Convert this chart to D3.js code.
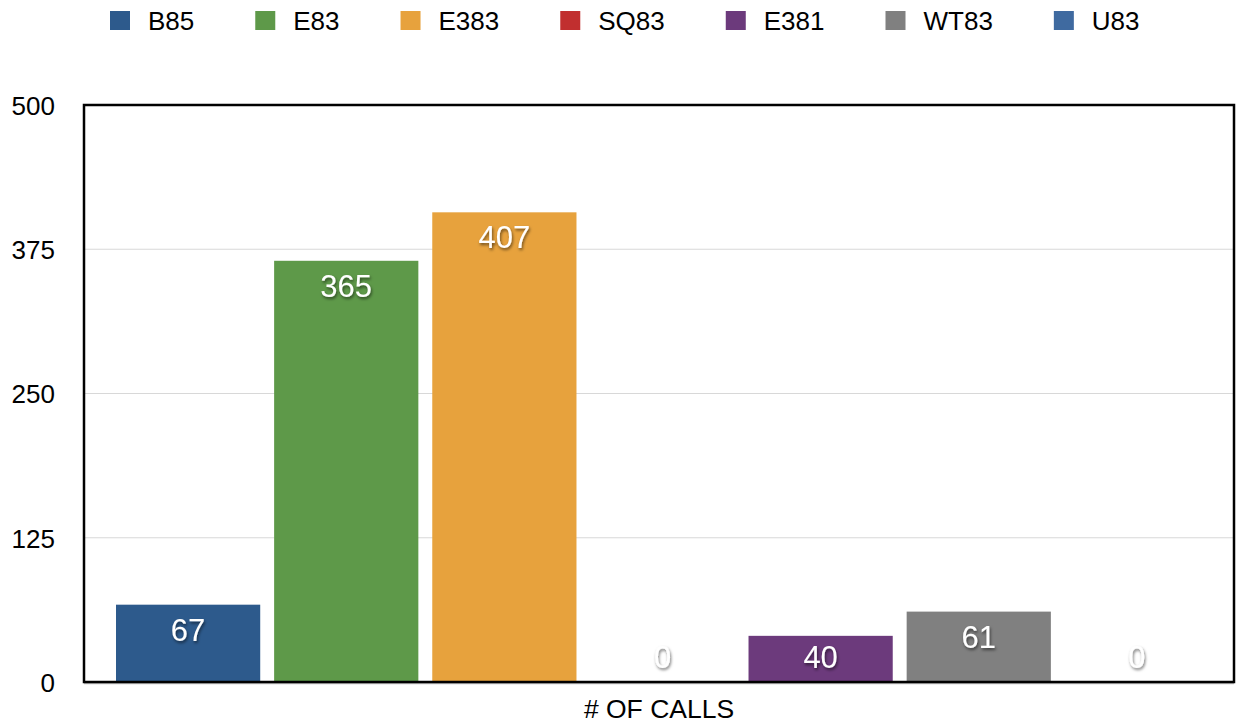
<!DOCTYPE html>
<html>
<head>
<meta charset="utf-8">
<script src="https://cdn.jsdelivr.net/npm/d3@7"></script>
<style>
  body { margin: 0; background: #fff; }
  text { font-family: "Liberation Sans", Arial, Helvetica, sans-serif; }
</style>
</head>
<body>
<div id="chart"></div>
<script>
// data
var category = "# OF CALLS";
var seriesNames = ["B85", "E83", "E383", "SQ83", "E381", "WT83", "U83"];
var seriesValues = [67, 365, 407, 0, 40, 61, 0];
var seriesColors = ["#2d5a8c", "#5e9949", "#e7a23d", "#c12f2f", "#6c3a7c", "#808080", "#3f6aa0"];
var yTicks = [0, 125, 250, 375, 500];

function main() {
    var width = 1238, height = 724;
    var margin = { top: 105, right: 4, bottom: 42, left: 84 };
    var plotW = width - margin.left - margin.right;
    var plotH = height - margin.top - margin.bottom;

    var svg = d3.select("#chart")
        .append("svg")
        .attr("width", width)
        .attr("height", height);

    // drop shadow for bar labels
    var filter = svg.append("defs").append("filter")
        .attr("id", "shadow")
        .attr("x", "-20%").attr("y", "-20%")
        .attr("width", "140%").attr("height", "160%");
    filter.append("feDropShadow")
        .attr("dx", 1).attr("dy", 2)
        .attr("stdDeviation", 1.4)
        .attr("flood-color", "#000")
        .attr("flood-opacity", 0.55);

    var g = svg.append("g")
        .attr("transform", "translate(" + margin.left + "," + margin.top + ")");

    // scales: one category, seven series side by side
    var x0 = d3.scaleBand()
        .domain([category])
        .range([32, plotW - 25]);
    var x1 = d3.scaleBand()
        .domain(seriesNames)
        .range([0, x0.bandwidth()])
        .paddingInner(0.088)
        .paddingOuter(0);
    var y = d3.scaleLinear()
        .domain([0, 500])
        .range([plotH, 0]);

    // gridlines
    g.selectAll(".grid")
        .data(yTicks.filter(function (d) { return d > 0 && d < 500; }))
        .enter()
        .append("line")
        .attr("x1", 0)
        .attr("x2", plotW)
        .attr("y1", function (d) { return y(d); })
        .attr("y2", function (d) { return y(d); })
        .attr("stroke", "#d8d8d8")
        .attr("stroke-width", 1.2);

    // y axis labels
    var yAxis = g.append("g")
        .attr("transform", "translate(-29,0)")
        .call(d3.axisLeft(y).tickValues(yTicks).tickSize(0).tickPadding(0));
    yAxis.select(".domain").remove();
    yAxis.selectAll("text")
        .attr("font-size", "26px")
        .attr("dy", "0.36em")
        .attr("fill", "#000")
        .attr("font-family", "Liberation Sans, Arial, sans-serif");

    // bars
    var data = seriesNames.map(function (s, i) {
        return { name: s, value: seriesValues[i], color: seriesColors[i] };
    });

    var barG = g.append("g")
        .attr("transform", "translate(" + x0(category) + ",0)");

    barG.selectAll("rect")
        .data(data)
        .enter()
        .append("rect")
        .attr("x", function (d) { return x1(d.name); })
        .attr("width", x1.bandwidth())
        .attr("y", function (d) { return y(d.value); })
        .attr("height", function (d) { return plotH - y(d.value); })
        .attr("fill", function (d) { return d.color; });

    barG.selectAll(".lbl")
        .data(data)
        .enter()
        .append("text")
        .attr("x", function (d) { return x1(d.name) + x1.bandwidth() / 2; })
        .attr("y", function (d) { return Math.min(y(d.value) + 36, plotH - 14); })
        .attr("text-anchor", "middle")
        .attr("font-size", "31px")
        .attr("fill", "#fff")
        .attr("filter", "url(#shadow)")
        .text(function (d) { return d.value; });

    // frame
    g.append("line")
        .attr("x1", 0).attr("x2", plotW)
        .attr("y1", plotH + 1.5).attr("y2", plotH + 1.5)
        .attr("stroke", "#bbb")
        .attr("stroke-width", 1.5);
    g.append("rect")
        .attr("x", 0).attr("y", 0)
        .attr("width", plotW).attr("height", plotH)
        .attr("fill", "none")
        .attr("stroke", "#000")
        .attr("stroke-width", 2.5);

    // x axis label
    g.append("text")
        .attr("x", plotW / 2)
        .attr("y", plotH + 36)
        .attr("text-anchor", "middle")
        .attr("font-size", "26.5px")
        .attr("fill", "#000")
        .text(category);

    // legend
    var legend = svg.append("g").attr("transform", "translate(110,0)");
    var lx = 0;
    data.forEach(function (d) {
        var item = legend.append("g").attr("transform", "translate(" + lx + ",0)");
        item.append("rect")
            .attr("x", 0).attr("y", 11)
            .attr("width", 20).attr("height", 19)
            .attr("fill", d.color);
        var t = item.append("text")
            .attr("x", 38)
            .attr("y", 30)
            .attr("font-size", "26px")
            .attr("fill", "#000")
            .text(d.name);
        lx += 38 + t.node().getComputedTextLength() + 61;
    });
}
window.addEventListener('load', main);
</script>
</body>
</html>
